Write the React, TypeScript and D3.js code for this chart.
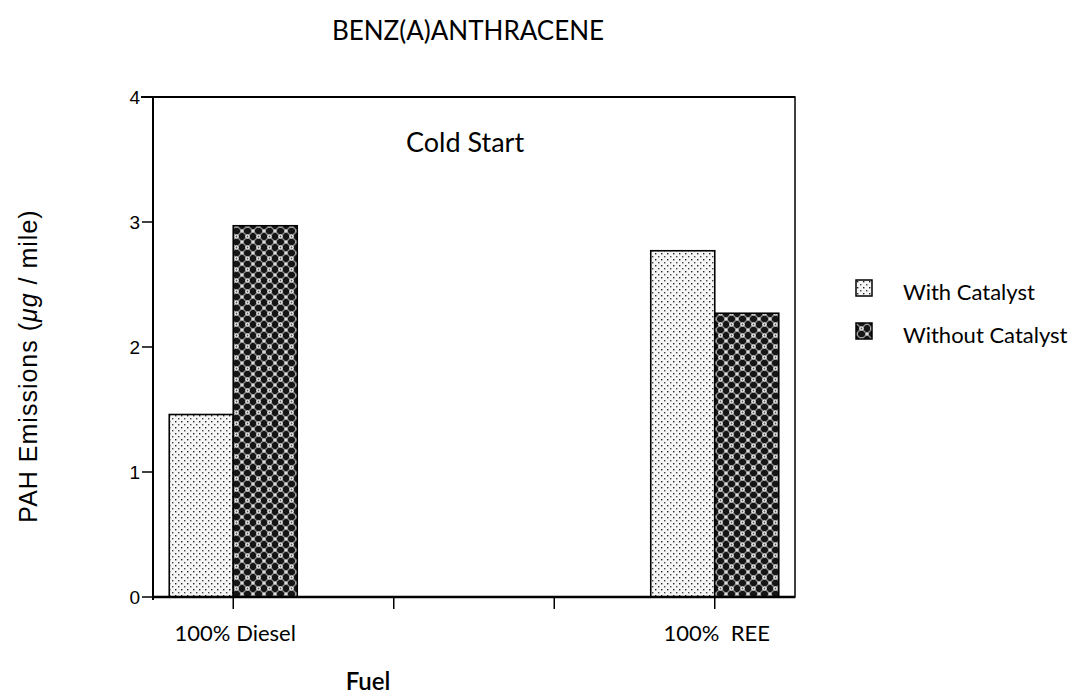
import React from "react";
import * as d3 from "d3";

const categories = ["100% Diesel", "", " ", "100%  REE"];
const series = ["With Catalyst", "Without Catalyst"];
const withCatalyst = [1.46, null, null, 2.77];
const withoutCatalyst = [2.97, null, null, 2.27];
const yTicks = [0, 1, 2, 3, 4];
const title = "BENZ(A)ANTHRACENE";
const subtitle = "Cold Start";
const xTitle = "Fuel";

export default function App() {
  const W = 1085, H = 695;
  const left = 153, right = 795, top = 97, bottom = 597;
  const x = d3.scaleBand<string>().domain(categories).range([left, right]).padding(0);
  const y = d3.scaleLinear().domain([0, 4]).range([bottom, top]);
  const barW = 64;
  const font = "Lato, 'Open Sans', sans-serif";
  const seriesVals = [withCatalyst, withoutCatalyst];
  const fills = ["url(#dots)", "url(#cross)"];

  return (
    <svg width={W} height={H} style={{ position: "absolute", left: 0, top: 0, background: "#fff" }}>
      <defs>
        <pattern id="dots" width="6" height="6" patternUnits="userSpaceOnUse">
          <rect width="6" height="6" fill="#f6f6f6" />
          <rect x="1" y="1" width="1.4" height="1.4" fill="#222" />
          <rect x="4" y="4" width="1.4" height="1.4" fill="#444" />
        </pattern>
        <pattern id="cross" width="11" height="11" patternUnits="userSpaceOnUse">
          <rect width="11" height="11" fill="#151515" />
          <path d="M0,0 L11,11 M11,0 L0,11" stroke="#8a8a8a" strokeWidth="1.3" />
          <circle cx="5.5" cy="5.5" r="2.3" fill="#f0f0f0" />
          <circle cx="5.5" cy="5.5" r="0.9" fill="#555" />
          <circle cx="0" cy="0" r="1.8" fill="#ddd" />
          <circle cx="11" cy="11" r="1.8" fill="#ddd" />
          <circle cx="11" cy="0" r="1.8" fill="#ddd" />
          <circle cx="0" cy="11" r="1.8" fill="#ddd" />
        </pattern>
      </defs>

      <text x={468} y={40} textAnchor="middle" fontFamily={font} fontSize={26} fill="#000">{title}</text>

      {/* bars */}
      {categories.map((c, i) => {
        const cx = x(c)! + x.bandwidth() / 2;
        return seriesVals.map((vals, s) => {
          const v = vals[i];
          if (v == null) return null;
          const bx = s === 0 ? cx - barW : cx;
          return (
            <rect key={c + s} x={bx} y={y(v)} width={barW} height={y(0) - y(v)}
              fill={fills[s]} stroke="#000" strokeWidth={1.6} />
          );
        });
      })}

      {/* frame */}
      <rect x={left} y={top} width={right - left} height={bottom - top} fill="none" stroke="#000" strokeWidth={1.5} />
      <line x1={left} x2={right} y1={bottom} y2={bottom} stroke="#000" strokeWidth={2.5} />
      <line x1={left - 12} x2={right} y1={top} y2={top} stroke="#000" strokeWidth={2} />
      <line x1={left} x2={left} y1={top} y2={bottom + 3} stroke="#000" strokeWidth={2} />

      {/* y ticks */}
      {yTicks.map((t) => (
        <g key={t}>
          <line x1={left - 11} x2={left} y1={y(t)} y2={y(t)} stroke="#000" strokeWidth={1.5} />
          <text x={left - 13} y={y(t) + 7} textAnchor="end" fontFamily="'Liberation Sans', sans-serif" fontSize={19}>{t}</text>
        </g>
      ))}

      {/* x ticks */}
      {categories.map((c) => {
        const cx = x(c)! + x.bandwidth() / 2;
        return (
          <g key={"t" + c}>
            <line x1={cx} x2={cx} y1={bottom} y2={bottom + 12} stroke="#000" strokeWidth={1.5} />
            {c.trim() && (
              <text x={cx + 2} y={bottom + 44} textAnchor="middle" fontFamily={font} fontSize={22} style={{ whiteSpace: "pre" }}>{c}</text>
            )}
          </g>
        );
      })}

      <text x={465} y={152} textAnchor="middle" fontFamily={font} fontSize={27}>{subtitle}</text>

      <text x={368} y={690} textAnchor="middle" fontFamily={font} fontSize={24} fontWeight={600}>{xTitle}</text>

      <text transform={`translate(37,${366}) rotate(-90)`} textAnchor="middle" fontFamily="'Liberation Sans', sans-serif" fontSize={25} letterSpacing={1}>
        PAH Emissions (<tspan fontStyle="italic">μg</tspan> / mile)
      </text>

      {/* legend */}
      {series.map((s, i) => (
        <g key={s} transform={`translate(856,${280 + i * 43})`}>
          <rect x={0} y={0} width={16} height={16} fill={fills[i]} stroke="#000" strokeWidth={1.5} />
          <text x={47} y={20} fontFamily={font} fontSize={22}>{s}</text>
        </g>
      ))}
    </svg>
  );
}
